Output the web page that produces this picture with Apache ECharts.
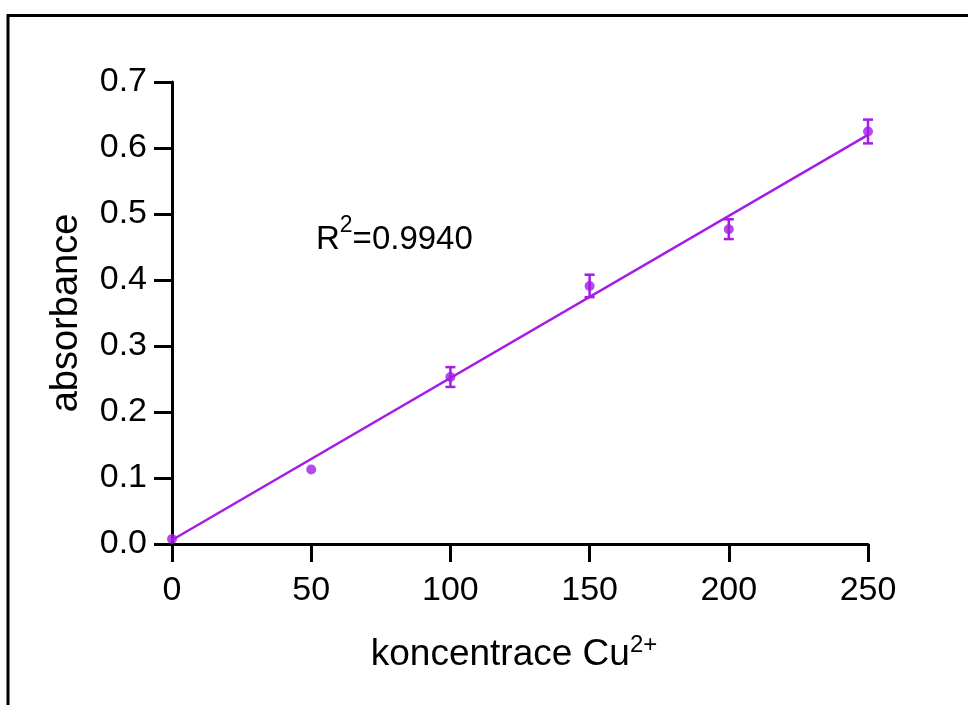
<!DOCTYPE html>
<html>
<head>
<meta charset="utf-8">
<script src="https://cdn.jsdelivr.net/npm/echarts@6/dist/echarts.min.js"></script>
<style>
    html, body {margin: 0; padding: 0; background: #fff;}
    #main {width: 968px; height: 705px;}
</style>
</head>
<body>
<div id="main"></div>
<script>
// data
var concList = [0, 50, 100, 150, 200, 250];
var absList = [0.0076, 0.113, 0.253, 0.391, 0.477, 0.625];
var errList = [0, 0, 0.015, 0.017, 0.015, 0.018];
var xTicks = [0, 50, 100, 150, 200, 250];
var yTicks = [0, 0.1, 0.2, 0.3, 0.4, 0.5, 0.6, 0.7];
// fitted line ends
var fitX = [0, 250];
var fitY = [0.006, 0.620];
var r2Text = '0.9940';

var purple = '#a31de6';
var font = 'Liberation Sans';

var pointData = [];
var errData = [];
for (var i = 0; i < concList.length; i++) {
    pointData.push([concList[i], absList[i]]);
    if (errList[i] > 0) errData.push([concList[i], absList[i] - errList[i], absList[i] + errList[i]]);
}
var fitData = [];
for (var j = 0; j < fitX.length; j++) fitData.push([fitX[j], fitY[j]]);

// error bars: vertical line + two caps
function renderErr(params, api) {
    var lo = api.coord([api.value(0), api.value(1)]);
    var hi = api.coord([api.value(0), api.value(2)]);
    var w = 5;
    var st = {stroke: purple, lineWidth: 2.5};
    return {
        type: 'group',
        children: [
            {type: 'line', shape: {x1: lo[0], y1: lo[1], x2: hi[0], y2: hi[1]}, style: st},
            {type: 'line', shape: {x1: lo[0] - w, y1: lo[1], x2: lo[0] + w, y2: lo[1]}, style: st},
            {type: 'line', shape: {x1: hi[0] - w, y1: hi[1], x2: hi[0] + w, y2: hi[1]}, style: st}
        ]
    };
}

var chart = document.getElementById('main');
var myChart = echarts.init(chart);
var axisStyle = {color: '#000', width: 3};
var option = {
    backgroundColor: '#fff',
    animation: false,
    grid: {left: 172, right: 100, top: 82, bottom: 161},
    xAxis: {
        type: 'value',
        min: xTicks[0],
        max: xTicks[xTicks.length - 1],
        interval: xTicks[1] - xTicks[0],
        name: 'koncentrace Cu{sup|2+}',
        nameLocation: 'middle',
        nameGap: 89,
        nameTextStyle: {
            rich: {
                sup: {fontSize: 24, lineHeight: 24, fontFamily: font, color: '#000', verticalAlign: 'top'}
            },
            fontSize: 37, lineHeight: 44, fontFamily: font, color: '#000', verticalAlign: 'top',
            padding: [0, 12, 0, 0]
        },
        axisLine: {onZero: false, lineStyle: axisStyle},
        axisTick: {length: 18, lineStyle: axisStyle},
        axisLabel: {fontSize: 34, fontFamily: font, color: '#000', margin: 30},
        splitLine: {show: false}
    },
    yAxis: {
        type: 'value',
        min: yTicks[0],
        max: yTicks[yTicks.length - 1],
        interval: 0.1,
        name: 'absorbance',
        nameLocation: 'middle',
        nameGap: 86,
        nameTextStyle: {fontSize: 38, fontFamily: font, color: '#000'},
        axisLine: {onZero: false, lineStyle: axisStyle},
        axisTick: {length: 18, lineStyle: axisStyle},
        axisLabel: {
            fontSize: 34, fontFamily: font, color: '#000', margin: 25,
            formatter: function (v) { return v.toFixed(1); }
        },
        splitLine: {show: false}
    },
    graphic: [
        {
            // page frame (top + left edges)
            type: 'polyline',
            shape: {points: [[8, 705], [8, 15.5], [968, 15.5]]},
            style: {stroke: '#000', lineWidth: 3, fill: null}
        },
        {
            type: 'text',
            left: 316,
            top: 214,
            style: {
                text: '{a|R}{s|2}{a|=' + r2Text + '}',
                rich: {
                    a: {fontSize: 33, lineHeight: 42, fontFamily: font, fill: '#000', verticalAlign: 'bottom'},
                    s: {fontSize: 23, lineHeight: 23, fontFamily: font, fill: '#000', verticalAlign: 'top'}
                }
            }
        }
    ],
    series: [
        {
            name: 'fit',
            type: 'line',
            data: fitData,
            symbol: 'none',
            lineStyle: {color: purple, width: 2.5},
            z: 2
        },
        {
            name: 'err',
            type: 'custom',
            data: errData,
            renderItem: renderErr,
            z: 3
        },
        {
            name: 'abs',
            type: 'scatter',
            data: pointData,
            symbol: 'circle',
            symbolSize: 10,
            itemStyle: {color: purple},
            z: 4
        }
    ]
};
myChart.setOption(option);
</script>
</body>
</html>
